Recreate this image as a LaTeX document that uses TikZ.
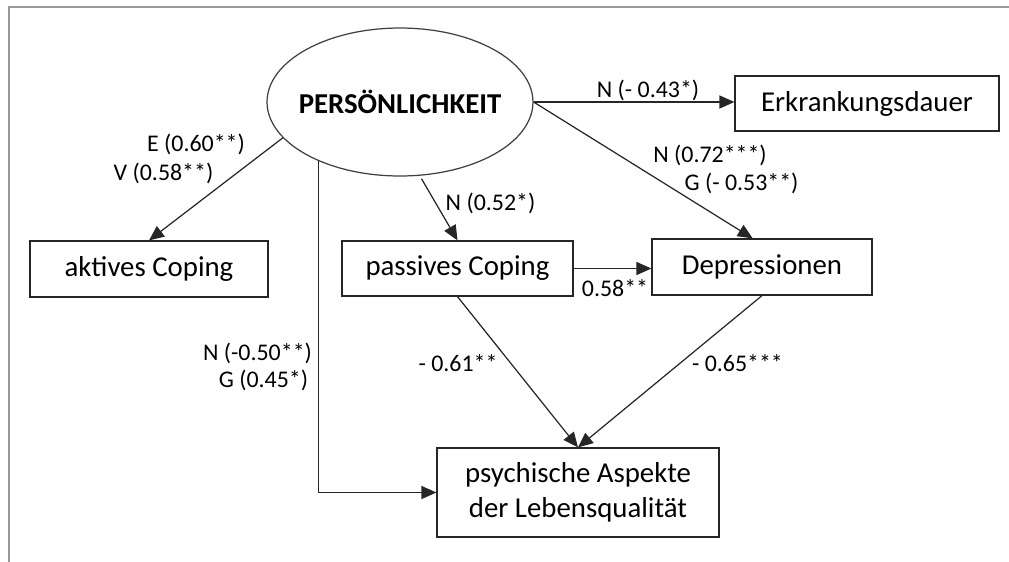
\documentclass[tikz,border=0pt]{standalone}
\usepackage{fontspec}
\setmainfont{Carlito}
\usetikzlibrary{shapes.geometric,arrows.meta}

\begin{document}
\begin{tikzpicture}
[x=0.02cm,y=-0.02cm,%
  line width=0.7pt,draw=black!85,%
  >={Triangle[length=8.5pt,width=7.4pt]},%
  every node/.style={inner sep=0pt},%
  box/.style={draw=black!85,rectangle,align=center,font=\fontsize{16.4}{19.7}\selectfont},%
  lbl/.style={font=\fontsize{13.6}{16}\selectfont}]
\useasboundingbox (0,0) rectangle (1009,562);
\draw[black!40,line width=0.85pt] (9,562) -- (9,7) -- (1009,7);
% variables
\node[ellipse,draw=black!75,minimum width=5.32cm,minimum height=2.96cm,
  label={[font=\fontsize{16.4}{19.7}\selectfont\bfseries]center:PERSÖNLICHKEIT}]
  (pers) at (400,102) {};
\node[box,minimum width=5.28cm,minimum height=1.1cm] (erk) at (867,103.5) {Erkrankungsdauer};
\node[box,minimum width=4.76cm,minimum height=1.12cm] (akt) at (149,269) {aktives Coping};
\node[box,minimum width=4.62cm,minimum height=1.1cm] (pas) at (457.5,268.5) {passives Coping};
\node[box,minimum width=4.4cm,minimum height=1.12cm] (dep) at (762,267) {Depressionen};
\node[box,minimum width=5.64cm,minimum height=1.78cm] (psy) at (578,492.5) {psychische Aspekte\\der Lebensqualität};
% paths
\draw[->] (pers.197) -- (akt.north);
\draw[->] (pers.east) -- (pers.east -| erk.west);
\draw[->] (pers.east) -- (dep.108);
\draw[->,shorten <=2pt] (pers.-75) -- (pas.north);
\draw[->] (pers.216) |- (psy.west);
\draw[->] (pas.east) -- (pas.east -| dep.west);
\draw[->] (pas.south) -- (psy.north);
\draw[->] (dep.south) -- (psy.north);
% coefficients
\node[lbl] (l-erk) at (648,90) {N (- 0.43*)};
\node[lbl] (l-akt1) at (196,144) {E (0.60**)};
\node[lbl] (l-akt2) at (163.5,173) {V (0.58**)};
\node[lbl] (l-dep1) at (710,155) {N (0.72***)};
\node[lbl] (l-dep2) at (741.5,183) {G (- 0.53**)};
\node[lbl] (l-pas) at (490.5,203) {N (0.52*)};
\node[lbl] (l-pasdep) at (615,288) {0.58**};
\node[lbl] (l-psy1) at (257.5,353) {N (-0.50**)};
\node[lbl] (l-psy2) at (263.5,380) {G (0.45*)};
\node[lbl] (l-paspsy) at (458,363) {- 0.61**};
\node[lbl] (l-deppsy) at (737.5,363) {- 0.65***};
\end{tikzpicture}
\end{document}
